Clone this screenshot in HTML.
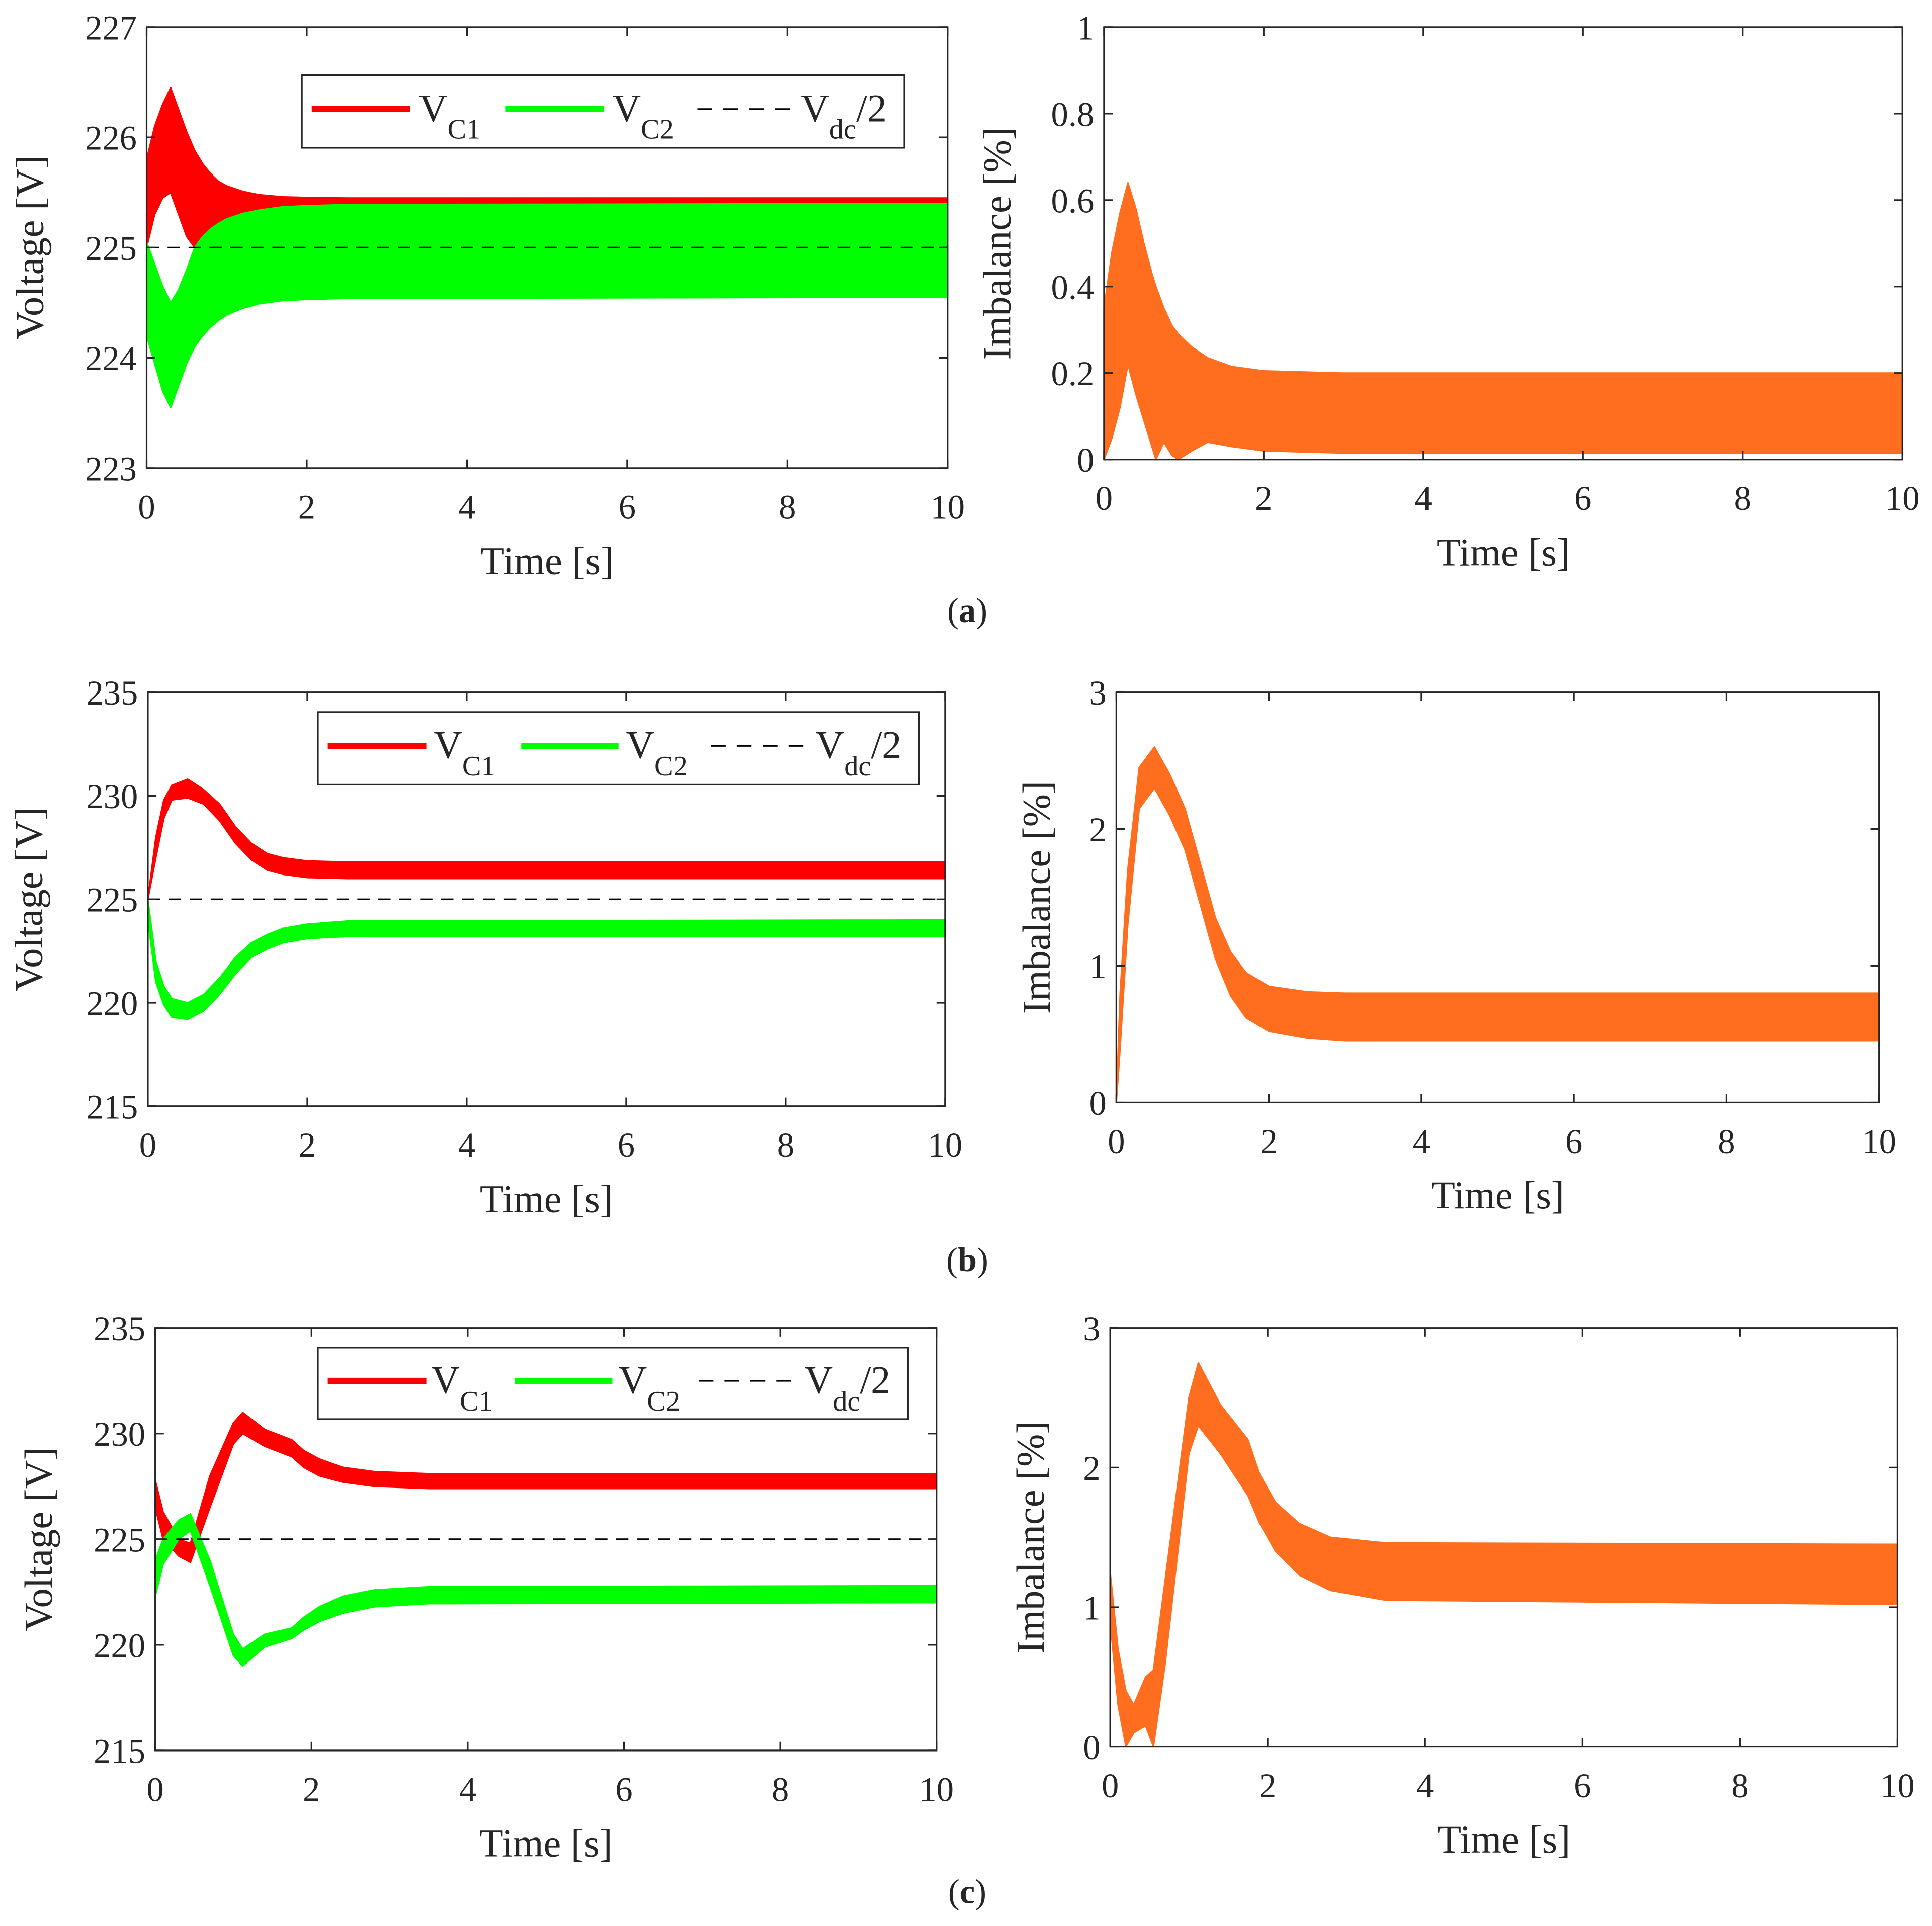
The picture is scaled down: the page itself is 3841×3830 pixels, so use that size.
<!DOCTYPE html>
<html><head><meta charset="utf-8">
<style>
html,body{margin:0;padding:0;background:#fff;}
svg{display:block;}
text{font-family:"Liberation Serif",serif;fill:#262626;}
</style></head>
<body>
<svg id="fig" xmlns="http://www.w3.org/2000/svg" width="3841" height="3830" viewBox="0 0 1568 1563.5" preserveAspectRatio="none"></svg>
<script>
// ---- data (time in s, envelopes of oscillating signals) ----
const tA = [0,0.1,0.2,0.3,0.4,0.5,0.6,0.7,0.8,0.9,1.0,1.2,1.4,1.7,2,2.5,10];
const aC1Upper = [225.8,226.1,226.3,226.45,226.25,226.05,225.88,225.76,225.67,225.6,225.56,225.51,225.48,225.46,225.455,225.45,225.45];
const aC1Lower = [225.0,225.3,225.45,225.5,225.3,225.1,225.0,225.05,225.1,225.15,225.2,225.27,225.32,225.36,225.38,225.38,225.38];
const aC2Upper = [225.05,224.85,224.65,224.5,224.62,224.8,225.0,225.1,225.17,225.22,225.26,225.31,225.34,225.37,225.38,225.39,225.4];
const aC2Lower = [224.2,223.95,223.7,223.55,223.75,223.95,224.1,224.2,224.28,224.34,224.39,224.45,224.49,224.52,224.53,224.54,224.55];
const tAI = [0,0.1,0.2,0.3,0.4,0.5,0.6,0.65,0.75,0.85,0.93,1.1,1.3,1.6,2,3,10];
const aImbUpper = [0.35,0.48,0.57,0.64,0.58,0.5,0.43,0.4,0.35,0.31,0.29,0.26,0.235,0.215,0.205,0.2,0.2];
const aImbLower = [0,0.05,0.12,0.22,0.15,0.09,0.03,0,0.04,0.01,0,0.02,0.04,0.03,0.02,0.015,0.015];

const tB = [0,0.1,0.2,0.3,0.5,0.7,0.9,1.1,1.3,1.5,1.7,2,2.5,10];
const bC1Upper = [225,228,229.8,230.5,230.8,230.3,229.6,228.5,227.7,227.2,227.0,226.85,226.8,226.8];
const bC1Lower = [225,227,228.9,229.8,229.9,229.6,228.8,227.7,226.9,226.4,226.2,226.05,226,226];
const bC2Upper = [225,222,220.8,220.2,220.0,220.4,221.2,222.2,222.9,223.3,223.6,223.8,223.95,224];
const bC2Lower = [224,221,219.9,219.3,219.2,219.6,220.4,221.4,222.2,222.6,222.9,223.1,223.2,223.2];
const tBI = [0,0.05,0.15,0.3,0.5,0.7,0.9,1.1,1.3,1.5,1.7,2,2.5,3,10];
const bImbUpper = [0,0.8,1.7,2.45,2.6,2.4,2.15,1.75,1.35,1.1,0.95,0.85,0.81,0.8,0.8];
const bImbLower = [0,0.4,1.3,2.15,2.3,2.1,1.85,1.45,1.05,0.78,0.62,0.52,0.47,0.45,0.45];

const tC = [0,0.1,0.3,0.45,0.7,1.0,1.12,1.4,1.75,1.9,2.1,2.4,2.8,3.5,10];
const cC1Upper = [227.8,226.3,225,224.8,228,230.5,231.0,230.2,229.7,229.2,228.8,228.4,228.2,228.1,228.1];
const cC1Lower = [226.5,225,224.2,223.9,226.5,229.5,230,229.4,228.9,228.4,228,227.7,227.5,227.4,227.4];
const cC2Upper = [224,225,225.9,226.2,224,220.5,219.8,220.5,220.8,221.3,221.8,222.3,222.6,222.75,222.8];
const cC2Lower = [222.3,223.8,225,225.4,222.8,219.5,219,219.9,220.3,220.7,221.1,221.5,221.8,221.95,222];
const tCI = [0,0.1,0.2,0.3,0.45,0.55,0.7,1.0,1.12,1.4,1.75,1.9,2.1,2.4,2.8,3.5,10];
const cImbUpper = [1.25,0.7,0.4,0.3,0.5,0.55,1.2,2.5,2.75,2.45,2.2,1.95,1.75,1.6,1.5,1.46,1.45];
const cImbLower = [0.9,0.3,0,0.1,0.15,0,0.6,2.1,2.3,2.1,1.8,1.6,1.4,1.23,1.12,1.05,1.02];

const xTicks = [0,2,4,6,8,10];
const vTicksA = [223,224,225,226,227];
const vTicksBC = [215,220,225,230,235];
const iTicksA = [0,0.2,0.4,0.6,0.8,1];
const iTicksBC = [0,1,2,3];
const vdcHalf = 225;

const NS='http://www.w3.org/2000/svg';
const svg=document.getElementById('fig');
function mk(tag,attrs,parent){const e=document.createElementNS(NS,tag);for(const k in attrs)e.setAttribute(k,attrs[k]);(parent||svg).appendChild(e);return e;}

function axes(name,x0,x1,y0,y1,ymin,ymax,yTicks,ylabel){
  const g=mk('g',{});
  
  
  const sx=v=>x0+(v-0)/(10-0)*(x1-x0);
  const sy=v=>y1-(v-ymin)/(ymax-ymin)*(y1-y0);
  return {g,sx,sy,x0,x1,y0,y1,yTicks,ylabel};
}
function band(ax,t,up,lo,color,name){
  let d='';
  for(let i=0;i<t.length;i++)d+=(i?'L':'M')+ax.sx(t[i]).toFixed(2)+','+ax.sy(up[i]).toFixed(2);
  for(let i=t.length-1;i>=0;i--)d+='L'+ax.sx(t[i]).toFixed(2)+','+ax.sy(lo[i]).toFixed(2);
  d+='Z';
  const p=mk('path',{d:d,fill:color,stroke:color,'stroke-width':1.2,'stroke-linejoin':'round'},ax.g);
  
  
}
function frame(ax){
  const g=ax.g;
  const r=mk('rect',{x:ax.x0,y:ax.y0,width:ax.x1-ax.x0,height:ax.y1-ax.y0,fill:'none',stroke:'#262626','stroke-width':1.3},g);
  
  
  const L=7;
  xTicks.forEach(v=>{
    const x=ax.sx(v);
    mk('line',{x1:x,x2:x,y1:ax.y1,y2:ax.y1-L,stroke:'#262626','stroke-width':1.3},g);
    mk('line',{x1:x,x2:x,y1:ax.y0,y2:ax.y0+L,stroke:'#262626','stroke-width':1.3},g);
    const t=mk('text',{x:x,y:ax.y1+41,'font-size':28,'text-anchor':'middle'},g);
    t.textContent=v;
    
    
  });
  ax.yTicks.forEach(v=>{
    const y=ax.sy(v);
    mk('line',{x1:ax.x0,x2:ax.x0+L,y1:y,y2:y,stroke:'#262626','stroke-width':1.3},g);
    mk('line',{x1:ax.x1,x2:ax.x1-L,y1:y,y2:y,stroke:'#262626','stroke-width':1.3},g);
    const t=mk('text',{x:ax.x0-8,y:y+10,'font-size':28,'text-anchor':'end'},g);
    t.textContent=v;
    
    
  });
  const xl=mk('text',{x:(ax.x0+ax.x1)/2,y:ax.y1+86,'font-size':32,'text-anchor':'middle'},g);
  xl.textContent='Time [s]';
  
  
  const cy=(ax.y0+ax.y1)/2, cx=ax.x0-ax.ylx;
  const yl=mk('text',{x:cx,y:cy,'font-size':32,'text-anchor':'middle',transform:'rotate(-90 '+cx+' '+cy+')'},g);
  yl.textContent=ax.ylabel;
  
  
}
function dashed(ax){
  const l=mk('line',{x1:ax.x0,x2:ax.x1,y1:ax.sy(vdcHalf),y2:ax.sy(vdcHalf),stroke:'#000','stroke-width':1.3,'stroke-dasharray':'10,7'},ax.g);
  
  
}
function legend(ax,bx0,bx1,by0,by1,pos){
  const g=mk('g',{},ax.g);
  
  
  mk('rect',{x:bx0,y:by0,width:bx1-bx0,height:by1-by0,fill:'#fff',stroke:'#262626','stroke-width':1.3},g);
  const ym=(by0+by1)/2-2;
  const items=[['#ff0000','C1','solid'],['#00ff00','C2','solid'],['#000','dc','dash']];
  items.forEach((it,i)=>{
    const [lx0,lx1,tx]=pos[i];
    const ln=mk('line',{x1:lx0,x2:lx1,y1:ym,y2:ym,stroke:it[0],'stroke-width':it[2]==='solid'?5:1.3},g);
    if(it[2]==='dash')ln.setAttribute('stroke-dasharray','12,9');
    
    
    const t=mk('text',{x:tx,y:ym+10,'font-size':32},g);
    
    
    const s1=mk('tspan',{},t);s1.textContent='V';
    const s2=mk('tspan',{dy:14,'font-size':23},t);s2.textContent=it[1];
    if(it[1]==='dc'){const s3=mk('tspan',{dy:-14},t);s3.textContent='/2';}
  });
}
function caption(x,y,letter){
  const t=mk('text',{x:x,y:y,'font-size':28,'text-anchor':'middle'});
  
  
  const a=mk('tspan',{},t);a.textContent='(';
  const b=mk('tspan',{'font-weight':'bold'},t);b.textContent=letter;
  const c=mk('tspan',{},t);c.textContent=')';
}

// Row a
let ax=axes('voltage-chart-a',119,769,22,380,223,227,vTicksA,'Voltage [V]');ax.ylx=84;
band(ax,tA,aC1Upper,aC1Lower,'#ff0000','vc1-band');
band(ax,tA,aC2Upper,aC2Lower,'#00ff00','vc2-band');
dashed(ax);frame(ax);
legend(ax,245,734,61,120,[[253,333,340],[410,490,497],[566,645,650]]);

ax=axes('imbalance-chart-a',896,1544,22,373,0,1,iTicksA,'Imbalance [%]');ax.ylx=76;
band(ax,tAI,aImbUpper,aImbLower,'#ff6d1f','imbalance-band');frame(ax);
caption(785,505,'a');

// Row b
ax=axes('voltage-chart-b',120,767,562,898,215,235,vTicksBC,'Voltage [V]');ax.ylx=86;
band(ax,tB,bC1Upper,bC1Lower,'#ff0000','vc1-band');
band(ax,tB,bC2Upper,bC2Lower,'#00ff00','vc2-band');
dashed(ax);frame(ax);
legend(ax,258,746,578,637,[[266,346,352],[423,502,508],[577,657,662]]);

ax=axes('imbalance-chart-b',906,1525,562,895,0,3,iTicksBC,'Imbalance [%]');ax.ylx=54;
band(ax,tBI,bImbUpper,bImbLower,'#ff6d1f','imbalance-band');frame(ax);
caption(785,1032,'b');

// Row c
ax=axes('voltage-chart-c',126,760,1078,1421,215,235,vTicksBC,'Voltage [V]');ax.ylx=84;
band(ax,tC,cC1Upper,cC1Lower,'#ff0000','vc1-band');
band(ax,tC,cC2Upper,cC2Lower,'#00ff00','vc2-band');
dashed(ax);frame(ax);
legend(ax,258,737,1094,1152,[[266,346,350],[418,497,502],[567,647,653]]);

ax=axes('imbalance-chart-c',901,1540,1078,1418,0,3,iTicksBC,'Imbalance [%]');ax.ylx=54;
band(ax,tCI,cImbUpper,cImbLower,'#ff6d1f','imbalance-band');frame(ax);
caption(785,1545,'c');
</script>
</body></html>
